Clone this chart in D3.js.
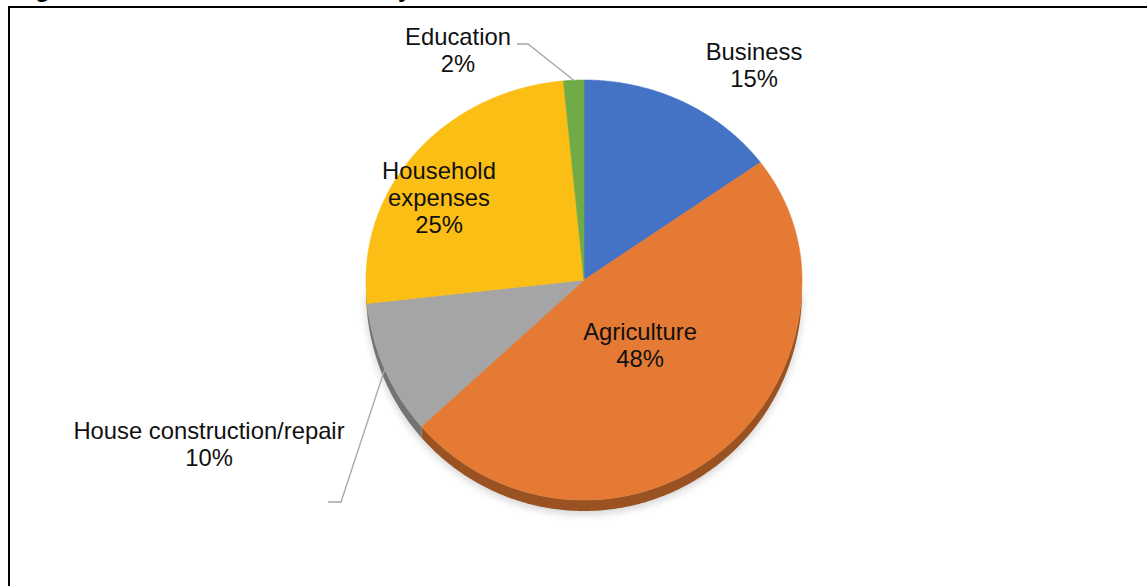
<!DOCTYPE html>
<html>
<head>
<meta charset="utf-8">
<script src="https://cdn.jsdelivr.net/npm/d3@7"></script>
<style>
  html, body { margin: 0; padding: 0; background: #fff; }
  svg { display: block; }
</style>
</head>
<body>
<svg id="chart" width="1147" height="586"></svg>
<script>
// ---- data ----
const categories = ["Business", "Agriculture", "House construction/repair", "Household expenses", "Education"];
const values = [15, 48.4, 9.9, 25.2, 1.5];
const titleText = "Figure 4.6: Share of loans taken by households";

// ---- styles / layout ----
const colors = ["#4472C4", "#E47A33", "#A5A5A5", "#FBBE14", "#6FAB46"];
const labelLayout = [
  { lines: ["Business"], x: 754, y: 60 },
  { lines: ["Agriculture"], x: 640, y: 340 },
  { lines: ["House construction/repair"], x: 209, y: 439, leader: [[328, 502], [341, 502]] },
  { lines: ["Household", "expenses"], x: 439, y: 179 },
  { lines: ["Education"], x: 458, y: 45, leader: [[517, 44], [528, 44]] }
];

const W = 1147, H = 586;
const cx = 584, cy = 280, rx = 218, ryTop = 200, ryBot = 220, depth = 11;
const svg = d3.select("#chart");

// frame
svg.append("path")
  .attr("d", `M9,${H} V7 H${W}`)
  .attr("fill", "none").attr("stroke", "#000").attr("stroke-width", 2);

// title (mostly cut off at the top, as in the source)
svg.append("text")
  .attr("x", 14).attr("y", -3.3)
  .attr("font-family", "Liberation Sans, Arial, sans-serif")
  .attr("font-weight", "bold").attr("font-size", 24)
  .text(titleText);

const pieGen = d3.pie().sort(null).value(d => d);
const arcs = pieGen(values);

function pt(a, dy = 0) {
  const c = Math.cos(a);
  const ry = c > 0 ? ryTop : ryBot;
  return [cx + rx * Math.sin(a), cy - ry * c + dy];
}
function rim(a0, a1, dy = 0) {
  const n = Math.max(2, Math.ceil((a1 - a0) / 0.01));
  return d3.range(n + 1).map(i => pt(a0 + (a1 - a0) * i / n, dy));
}
const line = d3.line();

const defs = svg.append("defs");
const f = defs.append("filter").attr("id", "shadow").attr("x", "-20%").attr("y", "-20%").attr("width", "140%").attr("height", "140%");
f.append("feGaussianBlur").attr("stdDeviation", 4);

// soft shadow
svg.append("path")
  .attr("d", line(rim(Math.PI / 2, 3 * Math.PI / 2, depth + 3)) + "Z")
  .attr("fill", "#000").attr("opacity", 0.18).attr("filter", "url(#shadow)");

// sides (3D depth) for the front half
arcs.forEach((d, i) => {
  const a0 = Math.max(d.startAngle, Math.PI / 2);
  const a1 = Math.min(d.endAngle, 3 * Math.PI / 2);
  if (a1 <= a0) return;
  const top = rim(a0, a1, 0);
  const bot = rim(a0, a1, depth).reverse();
  const base = d3.color(colors[i]);
  svg.append("path")
    .attr("d", line(top.concat(bot)) + "Z")
    .attr("fill", i === 1 ? base.darker(1.1) : base.darker(1.0));
});

// faces
arcs.forEach((d, i) => {
  const pts = [[cx, cy]].concat(rim(d.startAngle, d.endAngle, 0));
  svg.append("path")
    .attr("d", line(pts) + "Z")
    .attr("fill", colors[i])
    .attr("stroke", colors[i]).attr("stroke-width", 0.6);
});

// labels
const fmt = v => Math.round(v) + "%";
arcs.forEach((d, i) => {
  const L = labelLayout[i];
  const lines = L.lines.concat([fmt(values[i])]);
  const t = svg.append("text")
    .attr("font-family", "Liberation Sans, Arial, sans-serif")
    .attr("font-size", 23.8)
    .attr("fill", "#111")
    .attr("text-anchor", "middle");
  lines.forEach((s, k) => {
    t.append("tspan").attr("x", L.x).attr("y", L.y + k * 27).text(s);
  });
  if (L.leader) {
    const mid = (d.startAngle + d.endAngle) / 2;
    const end = pt(mid, 0);
    svg.append("path")
      .attr("d", line(L.leader.concat([end])))
      .attr("fill", "none").attr("stroke", "#A6A6A6").attr("stroke-width", 1.3);
  }
});
</script>
</body>
</html>
